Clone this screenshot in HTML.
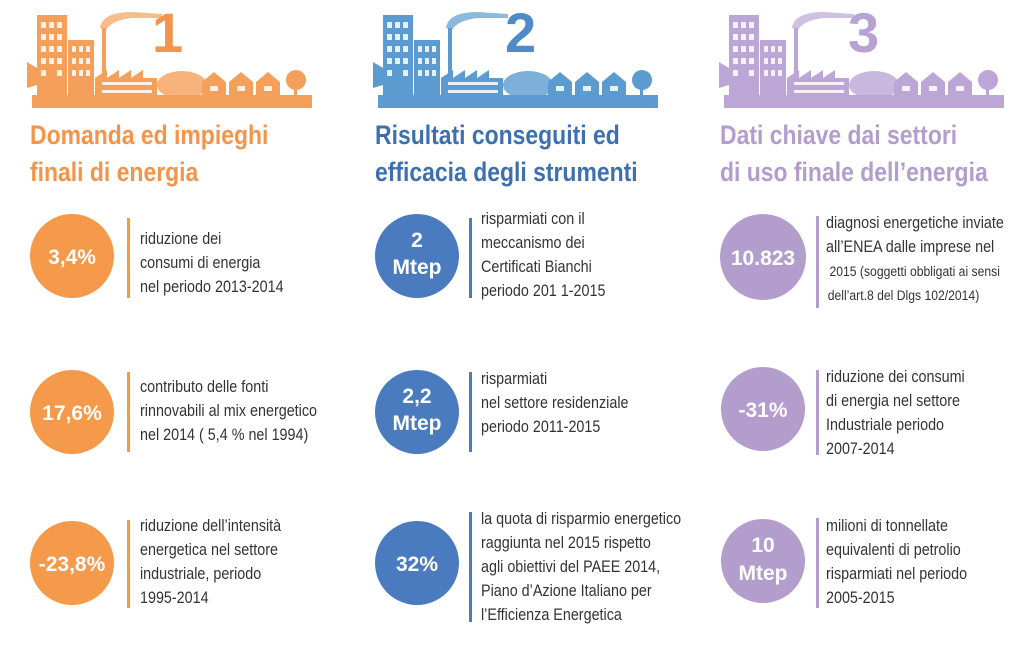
<!DOCTYPE html>
<html><head><meta charset="utf-8"><style>
html,body{margin:0;padding:0;background:#fff;width:1024px;height:646px;overflow:hidden}
svg{display:block}
.t{font-family:"Liberation Sans",sans-serif;font-size:16.5px;fill:#333}
.ts{font-family:"Liberation Sans",sans-serif;font-size:14px;fill:#333}
.h{font-family:"Liberation Sans",sans-serif;font-size:27px;font-weight:bold}
.c{font-family:"Liberation Sans",sans-serif;font-size:21px;font-weight:bold;fill:#fff}
.n{font-family:"Liberation Sans",sans-serif;font-size:56px;font-weight:bold}
</style></head><body>
<svg width="1024" height="646" viewBox="0 0 1024 646" xmlns="http://www.w3.org/2000/svg">
<defs>
<g id="city">
  <rect x="10" y="95" width="280" height="13"/>
  <rect x="15" y="15" width="30" height="85"/>
  <rect x="46" y="40" width="26" height="60"/>
  <polygon points="5,62 15,68 15,85 5,88"/>
  <rect x="80" y="28" width="4" height="50"/>
  <path d="M78 28 Q80 12 110 12 L140 14 L140 18 L110 18 Q90 20 84 30 Z" opacity="0.7"/>
  <polygon points="73,78 85,70 85,78 97,70 97,78 109,70 109,78 121,70 121,78 135,78 135,100 73,100"/>
  <ellipse cx="160" cy="85" rx="25" ry="14" opacity="0.8"/>
  <polygon points="180,82 192,72 204,82 204,100 180,100"/>
  <polygon points="207,82 219,72 231,82 231,100 207,100"/>
  <polygon points="234,82 246,72 258,82 258,100 234,100"/>
  <circle cx="274" cy="80" r="10"/>
  <rect x="272" y="85" width="3" height="15"/>
  <g fill="#fff" opacity="0.85">
    <rect x="19" y="22" width="5" height="6"/><rect x="27" y="22" width="5" height="6"/><rect x="35" y="22" width="5" height="6"/>
    <rect x="19" y="34" width="5" height="6"/><rect x="27" y="34" width="5" height="6"/><rect x="35" y="34" width="5" height="6"/>
    <rect x="19" y="46" width="5" height="6"/><rect x="27" y="46" width="5" height="6"/><rect x="35" y="46" width="5" height="6"/>
    <rect x="19" y="58" width="5" height="6"/><rect x="27" y="58" width="5" height="6"/><rect x="35" y="58" width="5" height="6"/>
    <rect x="19" y="70" width="5" height="6"/><rect x="35" y="70" width="5" height="6"/>
    <rect x="50" y="46" width="4" height="6"/><rect x="57" y="46" width="4" height="6"/><rect x="64" y="46" width="4" height="6"/>
    <rect x="50" y="58" width="4" height="6"/><rect x="57" y="58" width="4" height="6"/><rect x="64" y="58" width="4" height="6"/>
    <rect x="50" y="70" width="4" height="6"/><rect x="57" y="70" width="4" height="6"/><rect x="64" y="70" width="4" height="6"/>
    <rect x="80" y="82" width="50" height="3"/><rect x="80" y="90" width="50" height="3"/>
    <rect x="188" y="86" width="8" height="5"/><rect x="215" y="86" width="8" height="5"/><rect x="242" y="86" width="8" height="5"/>
  </g>
</g>
</defs>

<g fill="#f5a05a" transform="translate(22,0)"><use href="#city"/></g>
<text class="n" x="152" y="52" fill="#f2944a">1</text>
<g transform="translate(30,0) scale(0.85,1)" fill="#f2944a">
<text class="h" x="0" y="144">Domanda ed impieghi</text>
<text class="h" x="0" y="181">finali di energia</text>
</g>

<g fill="#5b9bd0" transform="translate(368,0)"><use href="#city"/></g>
<text class="n" x="505" y="52" fill="#4d8cc8">2</text>
<g transform="translate(375,0) scale(0.85,1)" fill="#3e70b0">
<text class="h" x="0" y="144">Risultati conseguiti ed</text>
<text class="h" x="0" y="181">efficacia degli strumenti</text>
</g>

<g fill="#bba6d6" transform="translate(714,0)"><use href="#city"/></g>
<text class="n" x="848" y="52" fill="#b8a2d4">3</text>
<g transform="translate(720,0) scale(0.85,1)" fill="#b39dcc">
<text class="h" x="0" y="144">Dati chiave dai settori</text>
<text class="h" x="0" y="181">di uso finale dell’energia</text>
</g>

<g fill="#f5994a">
<circle cx="72" cy="256" r="42"/><circle cx="72" cy="412" r="42"/><circle cx="72" cy="563" r="42"/>
<rect x="127" y="218" width="3" height="80"/><rect x="127" y="372" width="3" height="80"/><rect x="127" y="520" width="3" height="88"/>
</g>
<text class="c" x="72" y="264" text-anchor="middle">3,4%</text>
<text class="c" x="72" y="420" text-anchor="middle">17,6%</text>
<text class="c" x="72" y="571" text-anchor="middle">-23,8%</text>
<g transform="translate(140,0) scale(0.87,1)">
<text class="t" x="0" y="244">riduzione  dei</text>
<text class="t" x="0" y="268">consumi di energia</text>
<text class="t" x="0" y="292">nel periodo 2013-2014</text>
<text class="t" x="0" y="392">contributo delle fonti</text>
<text class="t" x="0" y="416">rinnovabili al mix energetico</text>
<text class="t" x="0" y="440">nel 2014 ( 5,4 % nel 1994)</text>
<text class="t" x="0" y="531">riduzione dell’intensità</text>
<text class="t" x="0" y="555">energetica nel settore</text>
<text class="t" x="0" y="579">industriale, periodo</text>
<text class="t" x="0" y="603">1995-2014</text>
</g>

<g fill="#4a7bbf">
<circle cx="417" cy="256" r="42"/><circle cx="417" cy="412" r="42"/><circle cx="417" cy="563" r="42"/>
<rect x="469" y="218" width="3" height="80"/><rect x="469" y="372" width="3" height="80"/><rect x="469" y="512" width="3" height="110"/>
</g>
<text class="c" x="417" y="247" text-anchor="middle">2</text>
<text class="c" x="417" y="274" text-anchor="middle">Mtep</text>
<text class="c" x="417" y="403" text-anchor="middle">2,2</text>
<text class="c" x="417" y="430" text-anchor="middle">Mtep</text>
<text class="c" x="417" y="571" text-anchor="middle">32%</text>
<g transform="translate(481,0) scale(0.87,1)">
<text class="t" x="0" y="224">risparmiati con il</text>
<text class="t" x="0" y="248">meccanismo dei</text>
<text class="t" x="0" y="272">Certificati Bianchi</text>
<text class="t" x="0" y="296">periodo 201 1-2015</text>
<text class="t" x="0" y="384">risparmiati</text>
<text class="t" x="0" y="408">nel settore residenziale</text>
<text class="t" x="0" y="432">periodo 2011-2015</text>
<text class="t" x="0" y="524">la quota di risparmio energetico</text>
<text class="t" x="0" y="548">raggiunta nel 2015 rispetto</text>
<text class="t" x="0" y="572">agli obiettivi del PAEE 2014,</text>
<text class="t" x="0" y="596">Piano d’Azione Italiano per</text>
<text class="t" x="0" y="620">l’Efficienza Energetica</text>
</g>

<g fill="#b39dcc">
<circle cx="763" cy="257" r="43"/><circle cx="763" cy="409" r="42"/><circle cx="763" cy="561" r="42"/>
<rect x="816" y="216" width="3" height="92"/><rect x="816" y="370" width="3" height="85"/><rect x="816" y="518" width="3" height="90"/>
</g>
<text class="c" x="763" y="265" text-anchor="middle">10.823</text>
<text class="c" x="763" y="417" text-anchor="middle">-31%</text>
<text class="c" x="763" y="552" text-anchor="middle">10</text>
<text class="c" x="763" y="580" text-anchor="middle">Mtep</text>
<g transform="translate(826,0) scale(0.87,1)">
<text class="t" x="0" y="228">diagnosi energetiche inviate</text>
<text class="t" x="0" y="252">all’ENEA dalle imprese nel</text>
<text class="ts" x="4" y="276">2015 (soggetti obbligati ai sensi</text>
<text class="ts" x="2" y="300">dell’art.8 del Dlgs 102/2014)</text>
<text class="t" x="0" y="382">riduzione dei consumi</text>
<text class="t" x="0" y="406">di energia nel settore</text>
<text class="t" x="0" y="430">Industriale periodo</text>
<text class="t" x="0" y="454">2007-2014</text>
<text class="t" x="0" y="531">milioni di tonnellate</text>
<text class="t" x="0" y="555">equivalenti di petrolio</text>
<text class="t" x="0" y="579">risparmiati nel periodo</text>
<text class="t" x="0" y="603">2005-2015</text>
</g>
</svg>
</body></html>
